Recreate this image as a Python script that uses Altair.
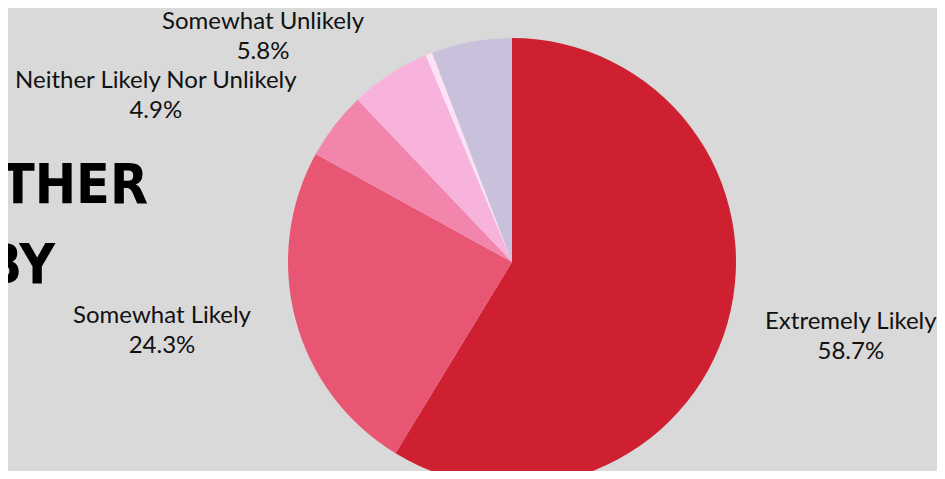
import altair as alt
import pandas as pd

categories = ["Extremely Likely", "Somewhat Likely", "Neither Likely Nor Unlikely",
              "Somewhat Unlikely", "Extremely Unlikely", "Not Sure"]
shares = [58.7, 24.3, 4.9, 5.8, 0.5, 5.8]
colors = ["#CE2030", "#E85673", "#F285AB", "#F8B3DD", "#FDE1F5", "#C9C0DC"]
labelled = ["Extremely Likely", "Somewhat Likely", "Neither Likely Nor Unlikely", "Somewhat Unlikely"]
title_lines = ["THER", "BY"]

df = pd.DataFrame({"category": categories, "share": shares, "order": list(range(len(categories)))})
df["label"] = df["category"] + "\n" + df["share"].map(lambda v: f"{v:.1f}%")

CX, CY = 504, 254
base = alt.Chart(df).encode(
    theta=alt.Theta("share:Q", stack=True),
    order=alt.Order("order:Q"),
    x=alt.value(CX),
    y=alt.value(CY),
)

pie = base.mark_arc(outerRadius=224).encode(
    color=alt.Color("category:N", scale=alt.Scale(domain=categories, range=colors), legend=None)
)

offsets = {
    "Extremely Likely": (-3, -36),
    "Somewhat Likely": (-7, -38),
    "Neither Likely Nor Unlikely": (-75, 36),
    "Somewhat Unlikely": (-55, 57),
}

layers = [pie]
for c in labelled:
    dx, dy = offsets[c]
    layers.append(
        base.mark_text(radius=355, dx=dx, dy=dy, font="Lato", fontSize=24, lineHeight=30,
                       lineBreak="\n", align="center", baseline="middle", color="#111111").encode(
            text=alt.condition(alt.datum.category == c, "label:N", alt.value(""))
        )
    )

tdf = pd.DataFrame({"line": title_lines})
title_pos = {"THER": (140, 195), "BY": (47, 275)}
for t in title_lines:
    tx, ty = title_pos[t]
    layers.append(
        alt.Chart(tdf).transform_filter(alt.datum.line == t).mark_text(
            font="DejaVu Sans Condensed", fontWeight="bold", fontSize=55, align="right",
            baseline="alphabetic", color="#000000"
        ).encode(text="line:N", x=alt.value(tx), y=alt.value(ty))
    )

chart = alt.layer(*layers).properties(
    width=929, height=463, background="#D9D9D9",
    autosize=alt.AutoSizeParams(type="none"), padding=0
).configure_view(stroke=None)

chart.save("out.html", embed_options={"renderer": "svg", "actions": False})
